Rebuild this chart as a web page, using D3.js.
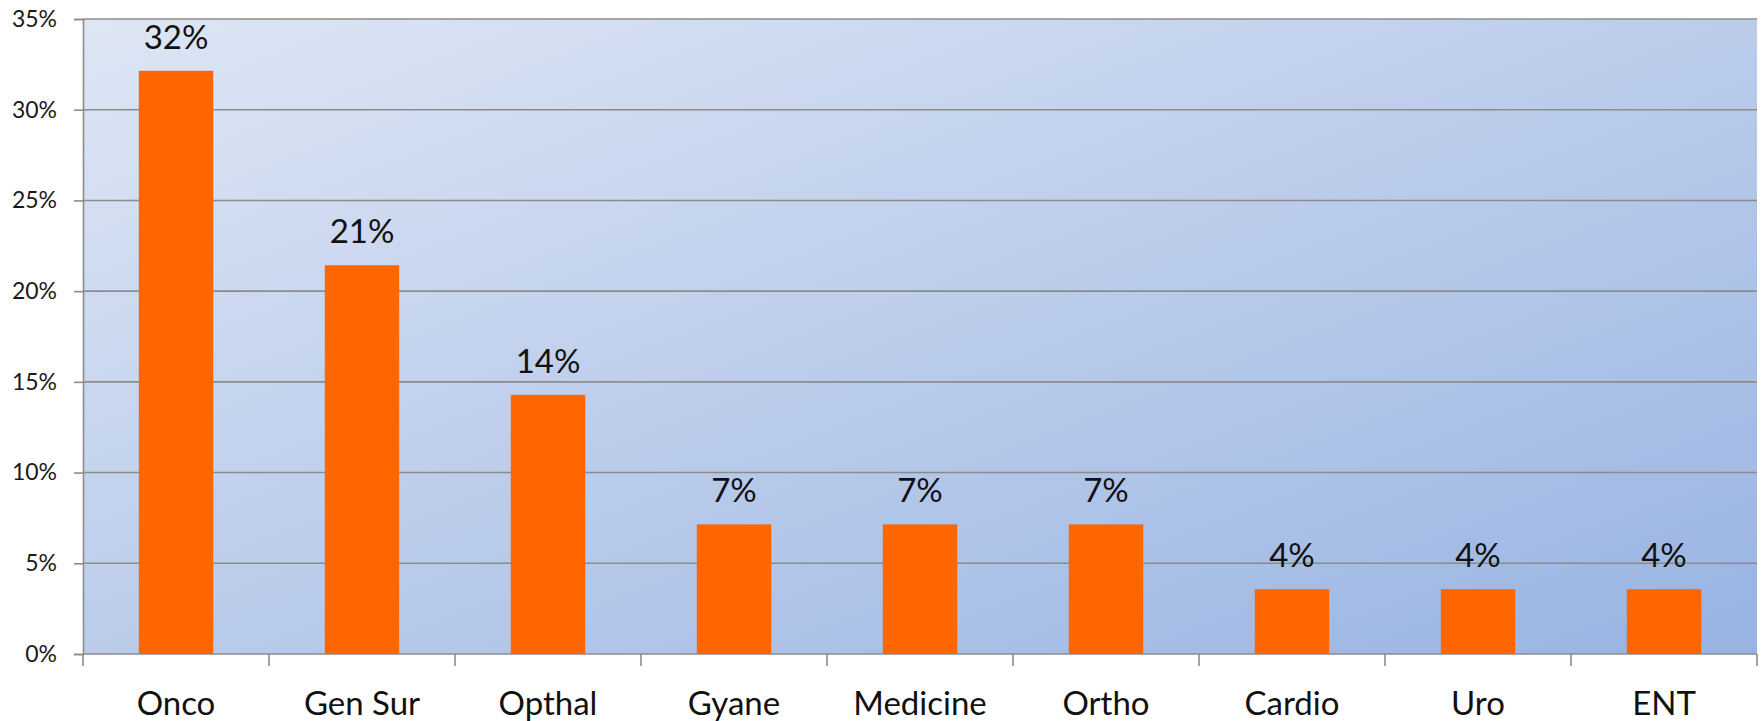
<!DOCTYPE html>
<html>
<head>
<meta charset="utf-8">
<script src="https://cdn.jsdelivr.net/npm/d3@7"></script>
<style>
  html, body { margin: 0; padding: 0; background: #ffffff; }
  svg { display: block; font-family: Lato, "Open Sans", sans-serif; }
</style>
</head>
<body>
<svg id="chart" width="1763" height="721"></svg>
<script>
// Share of cases by department
const categories = ["Onco", "Gen Sur", "Opthal", "Gyane", "Medicine", "Ortho", "Cardio", "Uro", "ENT"];
const shares = [9 / 28, 6 / 28, 4 / 28, 2 / 28, 2 / 28, 2 / 28, 1 / 28, 1 / 28, 1 / 28];
const yTicks = [0, 0.05, 0.10, 0.15, 0.20, 0.25, 0.30, 0.35];

const width = 1763, height = 721;
const margin = { top: 19, right: 6, bottom: 67, left: 83 };

const svg = d3.select("#chart");

const x = d3.scaleBand()
  .domain(categories)
  .range([margin.left, width - margin.right])
  .padding(0);

const y = d3.scaleLinear()
  .domain([0, 0.35])
  .range([height - margin.bottom, margin.top]);

const pct = d3.format(".0%");

// Plot area background: diagonal gradient
const defs = svg.append("defs");
const grad = defs.append("linearGradient")
  .attr("id", "plotBg")
  .attr("x1", 0).attr("y1", 0)
  .attr("x2", 1).attr("y2", 1);
grad.append("stop").attr("offset", "0%").attr("stop-color", "#dee6f4");
grad.append("stop").attr("offset", "100%").attr("stop-color", "#98b3e2");

svg.append("rect")
  .attr("x", x.range()[0])
  .attr("y", y(0.35))
  .attr("width", x.range()[1] - x.range()[0])
  .attr("height", y(0) - y(0.35))
  .attr("fill", "url(#plotBg)");

// Horizontal gridlines
svg.append("g")
  .selectAll("line")
  .data(yTicks.filter(d => d > 0))
  .join("line")
  .attr("x1", x.range()[0])
  .attr("x2", x.range()[1])
  .attr("y1", d => y(d))
  .attr("y2", d => y(d))
  .attr("stroke", "#8c8c8c")
  .attr("stroke-width", 1.6);

// Y axis
const yAxis = svg.append("g")
  .attr("transform", `translate(${margin.left},0)`)
  .call(d3.axisLeft(y).tickValues(yTicks).tickFormat(pct).tickSize(9).tickPadding(17));
yAxis.select(".domain").attr("stroke", "#8c8c8c").attr("stroke-width", 1.6);
yAxis.selectAll(".tick line").attr("stroke", "#8c8c8c").attr("stroke-width", 1.6);
yAxis.selectAll(".tick text")
  .attr("font-size", 23)
  .attr("font-family", "Lato, sans-serif")
  .attr("fill", "#1a1a1a");

// X axis baseline and category dividers
const xAxis = svg.append("g")
  .attr("transform", `translate(0,${y(0)})`);
xAxis.append("line")
  .attr("x1", x.range()[0]).attr("x2", x.range()[1])
  .attr("stroke", "#8c8c8c").attr("stroke-width", 1.6);
const dividers = categories.map(c => x(c)).concat([x.range()[1]]);
xAxis.selectAll("line.div")
  .data(dividers)
  .join("line")
  .attr("class", "div")
  .attr("x1", d => d).attr("x2", d => d)
  .attr("y1", 0).attr("y2", 12)
  .attr("stroke", "#8c8c8c").attr("stroke-width", 1.6);
xAxis.selectAll("text")
  .data(categories)
  .join("text")
  .attr("x", d => x(d) + x.bandwidth() / 2)
  .attr("y", 61)
  .attr("text-anchor", "middle")
  .attr("font-size", 33)
  .attr("fill", "#111")
  .text(d => d);

// Bars
const barW = x.bandwidth() * 0.4;
svg.append("g")
  .selectAll("rect")
  .data(categories.map((c, i) => ({ c, v: shares[i] })))
  .join("rect")
  .attr("x", d => x(d.c) + (x.bandwidth() - barW) / 2)
  .attr("y", d => y(d.v))
  .attr("width", barW)
  .attr("height", d => y(0) - y(d.v))
  .attr("fill", "#ff6600");

// Value labels
svg.append("g")
  .selectAll("text")
  .data(categories.map((c, i) => ({ c, v: shares[i] })))
  .join("text")
  .attr("x", d => x(d.c) + x.bandwidth() / 2)
  .attr("y", d => y(d.v) - 22)
  .attr("text-anchor", "middle")
  .attr("font-size", 33)
  .attr("fill", "#111")
  .text(d => pct(d.v));
</script>
</body>
</html>
